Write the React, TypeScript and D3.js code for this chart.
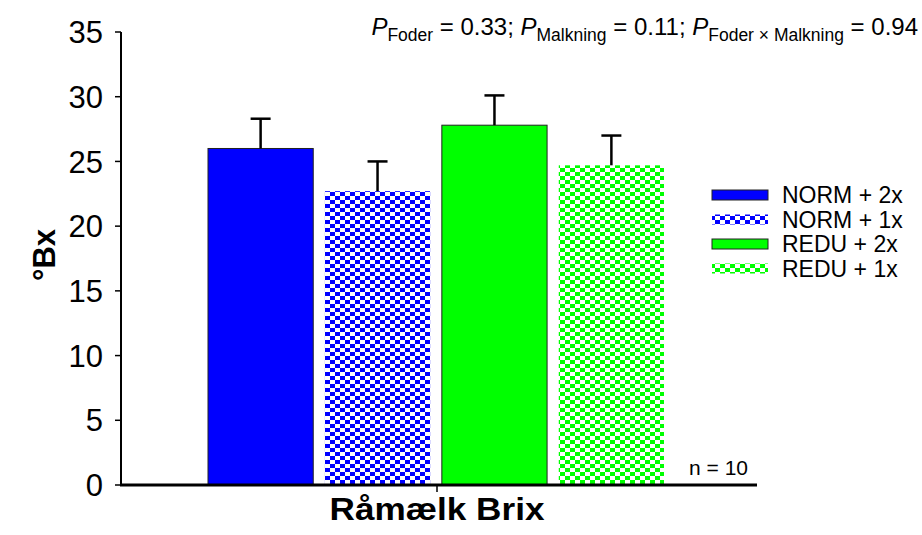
import React, { useEffect, useRef } from 'react';
import * as d3 from 'd3';

const groups = ['NORM + 2x', 'NORM + 1x', 'REDU + 2x', 'REDU + 1x'];
const means = [26.0, 22.7, 27.8, 24.7];
const errors = [2.3, 2.3, 2.3, 2.3];
const colors = ['#0000ff', '#0000ff', '#00ff00', '#00ff00'];
const checkered = [false, true, false, true];
const yTicks = [0, 5, 10, 15, 20, 25, 30, 35];
const category = 'Råmælk Brix';

const App = () => {
  const svgRef = useRef<SVGSVGElement | null>(null);

  useEffect(() => {
    if (!svgRef.current) return;
    const svg = d3.select(svgRef.current);
    svg.selectAll('*').remove();

    const width = 922;
    const height = 535;
    const font = 'Liberation Sans, Arial, sans-serif';
    const axisLeft = 121;
    const axisRight = 757;

    svg.attr('width', width).attr('height', height)
      .style('position', 'absolute').style('left', 0).style('top', 0)
      .style('background', '#fff');

    // checker patterns
    const defs = svg.append('defs');
    colors.forEach((c, i) => {
      if (!checkered[i]) return;
      const p = defs.append('pattern')
        .attr('id', `chk${i}`)
        .attr('patternUnits', 'userSpaceOnUse')
        .attr('width', 10)
        .attr('height', 8);
      p.append('rect').attr('width', 10).attr('height', 8).attr('fill', '#fff');
      p.append('rect').attr('x', 0).attr('y', 0).attr('width', 5).attr('height', 4).attr('fill', c);
      p.append('rect').attr('x', 5).attr('y', 4).attr('width', 5).attr('height', 4).attr('fill', c);
    });

    const y = d3.scaleLinear().domain([0, 35]).range([485, 32]);
    const x = d3.scaleBand<string>().domain(groups).range([208, 664]).paddingInner(0.1);

    // bars
    groups.forEach((g, i) => {
      const bx = x(g)!;
      svg.append('rect')
        .attr('x', bx)
        .attr('y', y(means[i]))
        .attr('width', x.bandwidth())
        .attr('height', y(0) - y(means[i]))
        .attr('fill', checkered[i] ? `url(#chk${i})` : colors[i])
        .attr('stroke', checkered[i] ? 'none' : '#222')
        .attr('stroke-width', 1);

      const cx = bx + x.bandwidth() / 2;
      svg.append('line')
        .attr('x1', cx).attr('x2', cx)
        .attr('y1', y(means[i])).attr('y2', y(means[i] + errors[i]))
        .attr('stroke', '#000').attr('stroke-width', 2.5);
      svg.append('line')
        .attr('x1', cx - 10).attr('x2', cx + 10)
        .attr('y1', y(means[i] + errors[i])).attr('y2', y(means[i] + errors[i]))
        .attr('stroke', '#000').attr('stroke-width', 2.5);
    });

    // y axis
    svg.append('line')
      .attr('x1', axisLeft).attr('x2', axisLeft)
      .attr('y1', y(35)).attr('y2', y(0))
      .attr('stroke', '#000').attr('stroke-width', 2);
    yTicks.forEach(t => {
      svg.append('line')
        .attr('x1', axisLeft - 6).attr('x2', axisLeft)
        .attr('y1', y(t)).attr('y2', y(t))
        .attr('stroke', '#000').attr('stroke-width', 1.5);
      svg.append('text')
        .attr('x', 103)
        .attr('y', y(t))
        .attr('dy', '0.36em')
        .attr('text-anchor', 'end')
        .attr('font-family', font)
        .attr('font-size', 31)
        .text(t);
    });

    // x axis
    svg.append('line')
      .attr('x1', axisLeft - 1).attr('x2', axisRight)
      .attr('y1', y(0)).attr('y2', y(0))
      .attr('stroke', '#000').attr('stroke-width', 3);
    const midX = 437;
    svg.append('line')
      .attr('x1', midX).attr('x2', midX)
      .attr('y1', y(0)).attr('y2', y(0) + 7)
      .attr('stroke', '#000').attr('stroke-width', 1.5);

    // axis titles
    svg.append('text')
      .attr('x', midX)
      .attr('y', 520)
      .attr('text-anchor', 'middle')
      .attr('font-family', font)
      .attr('font-weight', 'bold')
      .attr('font-size', 32)
      .attr('textLength', 215)
      .attr('lengthAdjust', 'spacingAndGlyphs')
      .text(category);
    svg.append('text')
      .attr('transform', `translate(55, 255) rotate(-90)`)
      .attr('text-anchor', 'middle')
      .attr('font-family', font)
      .attr('font-weight', 'bold')
      .attr('font-size', 31)
      .text('°Bx');

    // n label
    svg.append('text')
      .attr('x', 748)
      .attr('y', 475)
      .attr('text-anchor', 'end')
      .attr('font-family', font)
      .attr('font-size', 21)
      .text('n = 10');

    // legend
    groups.forEach((g, i) => {
      const ly = 195 + i * 24.5;
      svg.append('rect')
        .attr('x', 712).attr('y', ly - 5)
        .attr('width', 56).attr('height', 10)
        .attr('fill', checkered[i] ? `url(#chk${i})` : colors[i])
        .attr('stroke', checkered[i] ? 'none' : '#222')
        .attr('stroke-width', 1);
      svg.append('text')
        .attr('x', 782).attr('y', ly)
        .attr('dy', '0.36em')
        .attr('font-family', font)
        .attr('font-size', 23)
        .text(g);
    });

    // p-values
    const pText = svg.append('text')
      .attr('x', 918)
      .attr('y', 35)
      .attr('text-anchor', 'end')
      .attr('font-family', font)
      .attr('font-size', 24);
    const parts: [string, string][] = [
      ['Foder', ' = 0.33; '],
      ['Malkning', ' = 0.11; '],
      ['Foder × Malkning', ' = 0.94'],
    ];
    parts.forEach(([sub, rest]) => {
      pText.append('tspan').attr('font-style', 'italic').attr('dy', 0).text('P');
      pText.append('tspan').attr('font-size', 17.5).attr('dy', 6).text(sub);
      pText.append('tspan').attr('dy', -6).text(rest);
    });
  }, []);

  return <svg ref={svgRef} />;
};

export default App;
